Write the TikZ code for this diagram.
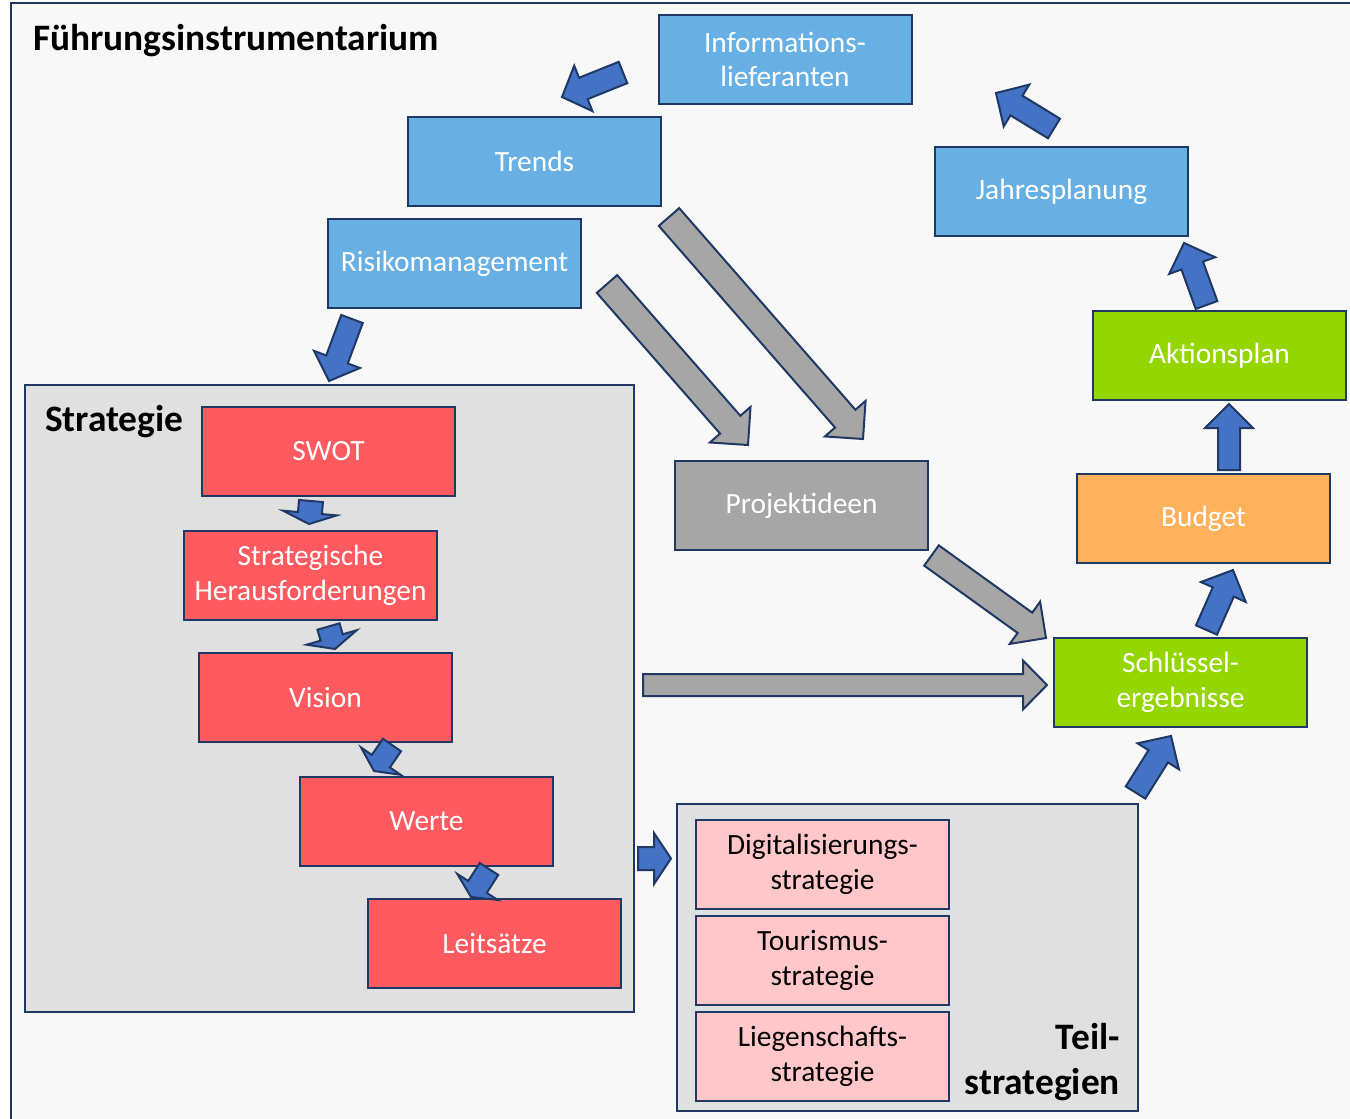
\documentclass[tikz,border=0pt]{standalone}
\usepackage{fontspec}
\setmainfont{Carlito}
\usetikzlibrary{calc}
\definecolor{navy}{RGB}{31,56,100}
\definecolor{bgc}{RGB}{248,248,248}
\definecolor{lblue}{RGB}{104,176,228}
\definecolor{lgreen}{RGB}{150,214,0}
\definecolor{lorange}{RGB}{255,177,91}
\definecolor{lgray}{RGB}{166,166,166}
\definecolor{lred}{RGB}{255,90,95}
\definecolor{lpink}{RGB}{255,199,201}
\definecolor{cgray}{RGB}{224,224,224}
\definecolor{abl}{RGB}{68,114,196}
\newcommand\blockarrow[6][]{%
  \coordinate (ba-h) at ($(#3)!#6!(#2)$);
  \draw[#1] ($(#2)!#4!90:(#3)$) -- ($(ba-h)!#4!90:(#3)$) -- ($(ba-h)!#5!90:(#3)$) -- (#3)
    -- ($(ba-h)!#5!-90:(#3)$) -- ($(ba-h)!#4!-90:(#3)$) -- ($(#2)!#4!-90:(#3)$) -- cycle;}
\begin{document}
\begin{tikzpicture}[x=1bp,y=-1bp,
  box/.style={draw=navy, line width=2bp, minimum width=253bp, minimum height=89bp,
    inner sep=0pt, text=white, align=center, font=\fontsize{29.5}{35}\selectfont},
  bluebox/.style={box, fill=lblue},
  greenbox/.style={box, fill=lgreen},
  redbox/.style={box, fill=lred},
  pinkbox/.style={box, fill=lpink, text=black},
  container/.style={draw=navy, line width=2bp, fill=cgray},
  barrow/.style={draw=navy, line width=2bp, fill=abl, line join=miter},
  garrow/.style={draw=navy, line width=2bp, fill=lgray, line join=miter},
  heading/.style={font=\fontsize{37.5}{45}\selectfont\bfseries, inner sep=0pt, text=black}]
\useasboundingbox (0,0) rectangle (1350,1118);
\fill[white] (0,0) rectangle (1350,1118);
\draw[draw=navy, line width=2bp, fill=bgc] (11,3) rectangle (1370,1140);
\node[heading, anchor=base west] (title) at (33,50) {Führungsinstrumentarium};
% containers
\draw[container] (25,385) rectangle (634,1012);
\draw[container] (677,804) rectangle (1138,1111);
\node[heading, anchor=base west] (strat) at (45,431) {Strategie};
\node[heading, anchor=south east, align=right] (teil) at (1120,1101) {Teil-\\strategien};
% boxes
\node[bluebox] (info) at (785,59.5) {Informations-\\lieferanten};
\node[bluebox] (trends) at (534.5,161.5) {Trends};
\node[bluebox] (risk) at (454.5,263.5) {Risikomanagement};
\node[bluebox] (jahr) at (1061.5,191.5) {Jahresplanung};
\node[greenbox] (akt) at (1219.5,355.5) {Aktionsplan};
\node[box, fill=lorange] (budget) at (1203.5,518.5) {Budget};
\node[greenbox] (schl) at (1180.5,682.5) {Schlüssel-\\ergebnisse};
\node[box, fill=lgray] (proj) at (801.5,505.5) {Projektideen};
\node[redbox] (swot) at (328.5,451.5) {SWOT};
\node[redbox] (hera) at (310.5,575) {Strategische\\Herausforderungen};
\node[redbox] (vision) at (325.5,697.5) {Vision};
\node[redbox] (werte) at (426.5,821.5) {Werte};
\node[redbox] (leit) at (494.5,943) {Leitsätze};
\node[pinkbox] (digi) at (822.5,864.5) {Digitalisierungs-\\strategie};
\node[pinkbox] (tour) at (822.5,960.5) {Tourismus-\\strategie};
\node[pinkbox] (lieg) at (822.5,1056.5) {Liegenschafts-\\strategie};
% arrow end points
\coordinate (a1t) at (623,72.5);   \coordinate (a1h) at (562,97);
\coordinate (a2t) at (352,319);    \coordinate (a2h) at (329,381);
\coordinate (a3t) at (311,501);    \coordinate (a3h) at (309,524);
\coordinate (a4t) at (328.5,626.5);\coordinate (a4h) at (335,649);
\coordinate (a5t) at (392,745);    \coordinate (a5h) at (374,771);
\coordinate (a6t) at (489,869);    \coordinate (a6h) at (471,897);
\coordinate (a7t) at (607,284);    \coordinate (a7h) at (748,445);
\coordinate (a8t) at (669,217);    \coordinate (a8h) at (863,439);
\coordinate (a9t) at (931.5,555.5);\coordinate (a9h) at (1046,638);
\coordinate (a10t) at (643,685);   \coordinate (a10h) at (1047,685);
\coordinate (a11t) at (638,858.5); \coordinate (a11h) at (671,858.5);
\coordinate (a12t) at (1135.5,792.5); \coordinate (a12h) at (1171,736);
\coordinate (a13t) at (1206.5,630);\coordinate (a13h) at (1233,570);
\coordinate (a14t) at (1229,470);  \coordinate (a14h) at (1229,404);
\coordinate (a15t) at (1206.5,305);\coordinate (a15h) at (1184,243);
\coordinate (a16t) at (1054,128.5);\coordinate (a16h) at (996,93);
% blue arrows
\blockarrow[barrow]{a1t}{a1h}{11.5bp}{24.5bp}{23bp}
\blockarrow[barrow]{a2t}{a2h}{11.5bp}{24.5bp}{23bp}
\blockarrow[barrow]{a3t}{a3h}{12bp}{27bp}{11bp}
\blockarrow[barrow]{a4t}{a4h}{11.5bp}{26bp}{12bp}
\blockarrow[barrow]{a5t}{a5h}{11bp}{24bp}{12bp}
\blockarrow[barrow]{a6t}{a6h}{11bp}{24bp}{12bp}
\blockarrow[barrow]{a11t}{a11h}{11.5bp}{25.5bp}{17bp}
\blockarrow[barrow]{a12t}{a12h}{11.5bp}{24.5bp}{24bp}
\blockarrow[barrow]{a13t}{a13h}{11.5bp}{24.5bp}{24bp}
\blockarrow[barrow]{a14t}{a14h}{11bp}{24bp}{24bp}
\blockarrow[barrow]{a15t}{a15h}{11.5bp}{24.5bp}{24bp}
\blockarrow[barrow]{a16t}{a16h}{11.5bp}{24.5bp}{24bp}
% gray arrows
\blockarrow[garrow]{a7t}{a7h}{13.5bp}{27bp}{27bp}
\blockarrow[garrow]{a8t}{a8h}{13.5bp}{27bp}{27bp}
\blockarrow[garrow]{a9t}{a9h}{12.5bp}{26bp}{26bp}
\blockarrow[garrow]{a10t}{a10h}{11bp}{24.5bp}{24bp}
\end{tikzpicture}
\end{document}
